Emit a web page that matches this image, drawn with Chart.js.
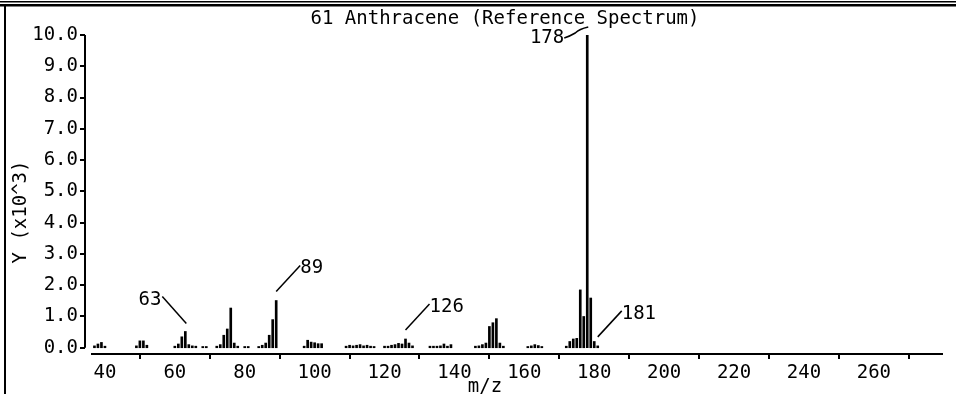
<!DOCTYPE html>
<html>
<head>
<meta charset="utf-8">
<script src="https://cdn.jsdelivr.net/npm/chart.js@4.4.0/dist/chart.umd.min.js"></script>
<style>
  html, body { margin: 0; padding: 0; background: #fff; }
  #wrap { width: 956px; height: 394px; }
</style>
</head>
<body>
<div id="wrap"><canvas id="spectrum"></canvas></div>
<script>
// m/z values and their abundances (Y, x10^3)
const massToCharge = [
  37, 38, 39, 40,
  49, 50, 51, 52,
  60, 61, 62, 63, 64, 65, 66, 68, 69,
  72, 73, 74, 75, 76, 77, 78, 80, 81,
  84, 85, 86, 87, 88, 89,
  97, 98, 99, 100, 101, 102,
  109, 110, 111, 112, 113, 114, 115, 116, 117,
  120, 121, 122, 123, 124, 125, 126, 127, 128,
  133, 134, 135, 136, 137, 138, 139,
  146, 147, 148, 149, 150, 151, 152, 153, 154,
  161, 162, 163, 164, 165,
  172, 173, 174, 175, 176, 177, 178, 179, 180, 181
]
const abundance = [
  0.06, 0.12, 0.17, 0.05,
  0.06, 0.22, 0.22, 0.08,
  0.05, 0.12, 0.35, 0.52, 0.10, 0.06, 0.05, 0.04, 0.04,
  0.05, 0.10, 0.40, 0.60, 1.27, 0.15, 0.05, 0.04, 0.04,
  0.04, 0.08, 0.15, 0.40, 0.90, 1.51,
  0.05, 0.24, 0.18, 0.16, 0.13, 0.13,
  0.05, 0.08, 0.06, 0.08, 0.10, 0.06, 0.08, 0.05, 0.04,
  0.05, 0.05, 0.08, 0.10, 0.14, 0.12, 0.28, 0.15, 0.06,
  0.05, 0.05, 0.05, 0.06, 0.12, 0.05, 0.10,
  0.05, 0.06, 0.10, 0.15, 0.68, 0.80, 0.93, 0.15, 0.05,
  0.04, 0.06, 0.10, 0.07, 0.04,
  0.05, 0.20, 0.28, 0.30, 1.85, 1.00, 10.0, 1.59, 0.20, 0.06
]
const xTicks = [40, 60, 80, 100, 120, 140, 160, 180, 200, 220, 240, 260]
const yTicks = [0, 1, 2, 3, 4, 5, 6, 7, 8, 9, 10]
const peakLabels = [63, 89, 126, 178, 181]

const FONT = '"DejaVu Sans Mono", "Liberation Mono", monospace'
const FONT_SIZE = 19

// how each peak label sits next to its bar
const labelSide = { 63: 'left', 89: 'right', 126: 'right', 178: 'low', 181: 'right' }

const spectrumDecor = {
  id: 'spectrumDecor',
  afterDraw(chart) {
    const ctx = chart.ctx
    const area = chart.chartArea
    const x = chart.scales.x
    const y = chart.scales.y
    ctx.save()

    // outer frame: double rule on top, single rule on the left
    ctx.fillStyle = '#000'
    ctx.fillRect(0, 1, chart.width, 1.5)
    ctx.fillRect(0, 4, chart.width, 2.5)
    ctx.fillRect(4, 4, 2, chart.height - 4)

    // y axis sits a little left of the plot, from 0 to 10
    const ax = area.left - 7
    ctx.strokeStyle = '#000'
    ctx.lineWidth = 2
    ctx.beginPath()
    ctx.moveTo(ax, y.getPixelForValue(0))
    ctx.lineTo(ax, y.getPixelForValue(10))
    yTicks.forEach(v => {
      const py = Math.round(y.getPixelForValue(v))
      ctx.moveTo(ax - 5, py)
      ctx.lineTo(ax, py)
    })
    ctx.stroke()

    ctx.fillStyle = '#000'
    ctx.font = FONT_SIZE + 'px ' + FONT
    ctx.textBaseline = 'middle'

    // title
    ctx.textAlign = 'center'
    ctx.fillText('61 Anthracene (Reference Spectrum)', area.left + area.width / 2 - 12, 19)

    // axis titles
    ctx.fillText('m/z', area.left + area.width / 2 - 32, 387)
    ctx.save()
    ctx.translate(21, 212)
    ctx.rotate(-Math.PI / 2)
    ctx.fillText('Y (x10^3)', 0, 0)
    ctx.restore()

    // peak labels with leader lines
    ctx.lineWidth = 1.5
    peakLabels.forEach(mz => {
      const i = massToCharge.indexOf(mz)
      const bx = x.getPixelForValue(mz)
      const top = y.getPixelForValue(abundance[i])
      const side = labelSide[mz]
      ctx.beginPath()
      if (side === 'left') {
        ctx.moveTo(bx + 1, top - 8)
        ctx.lineTo(bx - 23, top - 35)
        ctx.stroke()
        ctx.textAlign = 'right'
        ctx.fillText(String(mz), bx - 24, top - 31)
      } else if (side === 'right') {
        ctx.moveTo(bx, top - 9)
        ctx.lineTo(bx + 24, top - 35)
        ctx.stroke()
        ctx.textAlign = 'left'
        ctx.fillText(String(mz), bx + 24, top - 32)
      } else {
        ctx.moveTo(bx + 1, top - 8)
        ctx.quadraticCurveTo(bx - 8, top - 6, bx - 12, top - 2)
        ctx.quadraticCurveTo(bx - 17, top + 1, bx - 23, top + 3)
        ctx.stroke()
        ctx.textAlign = 'right'
        ctx.fillText(String(mz), bx - 23, top + 3)
      }
    })
    ctx.restore()
  }
}

new Chart(
  document.getElementById('spectrum'),
  {
    type: 'bar',
    data: {
      datasets: [
        {
          label: 'Anthracene',
          data: massToCharge.map((mz, i) => ({ x: mz, y: abundance[i] })),
          backgroundColor: '#000',
          borderWidth: 0,
          barThickness: 2
        }
      ]
    },
    options: {
      responsive: true,
      maintainAspectRatio: false,
      animation: false,
      devicePixelRatio: 1,
      layout: { padding: { top: 35, right: 14, left: 0, bottom: 0 } },
      scales: {
        x: {
          type: 'linear',
          min: 36.3,
          max: 279.5,
          offset: false,
          afterBuildTicks: s => { s.ticks = xTicks.map(v => ({ value: v })) },
          afterFit: s => { s.height = 40 },
          grid: { display: true, drawOnChartArea: false, drawTicks: true, tickLength: 5, color: '#000', lineWidth: 2 },
          border: { display: true, color: '#000', width: 2 },
          ticks: { color: '#000', font: { family: FONT, size: FONT_SIZE }, padding: 3, maxRotation: 0, autoSkip: false }
        },
        y: {
          min: -0.2,
          max: 10,
          afterBuildTicks: s => { s.ticks = yTicks.map(v => ({ value: v })) },
          afterFit: s => { s.width = 92 },
          grid: { display: false, drawTicks: false },
          border: { display: false },
          ticks: { color: '#000', font: { family: FONT, size: FONT_SIZE }, padding: 14, callback: v => v.toFixed(1) }
        }
      },
      plugins: {
        legend: { display: false },
        tooltip: { enabled: false },
        title: { display: false }
      }
    },
    plugins: [spectrumDecor]
  }
)
</script>
</body>
</html>
